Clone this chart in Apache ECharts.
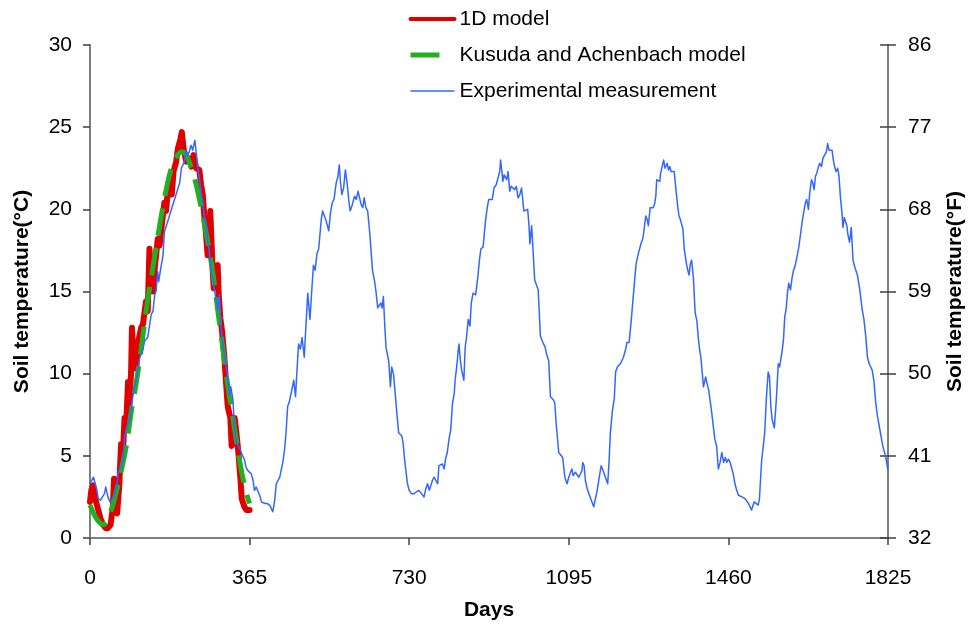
<!DOCTYPE html>
<html>
<head>
<meta charset="utf-8">
<script src="https://cdn.jsdelivr.net/npm/echarts@6/dist/echarts.min.js"></script>
<style>
  html, body { margin: 0; padding: 0; background: #ffffff; }
  #chart { width: 974px; height: 630px; }
</style>
</head>
<body>
<div id="chart"></div>
<script>
// Axis ticks
const dayTicks = [0, 365, 730, 1095, 1460, 1825];
const celsiusRange = [0, 30, 5];
const fahrenheitRange = [32, 86, 9];

// 1D model, first year: [day, °C]
const model1D = [
  [0,2.2],[3,2.9],[7,3.2],[12,2.4],[18,1.8],[24,1.2],[30,0.8],[36,0.6],[41,0.6],[47,0.8],
  [52,1.8],[55,3.6],[57,1.9],[62,1.5],[64,1.6],[67,3.2],[71,5.7],[75,5.0],[79,7.3],[83,7.0],
  [87,9.5],[90,8.0],[94,10.1],[96,12.8],[100,10.4],[106,10.3],[110,11.9],[117,12.8],[121,13.0],
  [128,14.4],[132,13.8],[136,17.6],[140,16.0],[144,15.0],[148,16.4],[155,18.2],[159,17.8],
  [167,19.7],[170,20.4],[174,19.9],[179,21.5],[184,22.1],[187,20.9],[191,22.3],[197,22.9],
  [201,23.7],[207,24.3],[210,24.7],[214,23.7],[220,22.9],[227,23.1],[232,22.6],[237,23.3],
  [243,22.5],[250,22.4],[254,21.5],[258,20.9],[261,19.7],[265,18.6],[269,17.2],[272,17.5],
  [275,19.9],[278,19.9],[281,16.0],[283,15.2],[288,16.4],[292,16.6],[294,15.0],[298,13.4],
  [302,12.6],[307,11.1],[311,9.5],[315,8.0],[321,7.3],[324,5.6],[327,5.9],[331,7.3],[334,6.6],
  [339,5.3],[344,3.6],[347,2.4],[353,1.9],[358,1.7],[365,1.7]
];

// Kusuda and Achenbach model, first year: [day, °C]
const kusuda = [
  [0,2.0],[10,1.4],[20,1.0],[30,0.8],[40,1.1],[52,2.0],[60,2.8],[70,3.9],[83,5.6],[95,7.8],
  [105,9.3],[117,11.5],[130,14.1],[140,15.8],[150,17.5],[163,19.6],[175,21.3],[185,22.4],
  [198,23.2],[210,23.5],[220,23.3],[228,22.8],[242,21.6],[258,19.6],[270,17.9],[280,16.3],
  [292,13.9],[307,10.9],[315,9.3],[324,7.8],[339,5.2],[350,3.6],[360,2.5],[365,2.1]
];

// Experimental measurement over five years: [day, °C]
const measured = [
  [0,3.3],[4,3.4],[8,3.7],[11,3.8],[15,3.0],[19,2.4],[24,2.3],[28,2.3],[33,2.7],[36,3.1],
  [41,2.5],[46,2.2],[49,2.2],[54,2.5],[58,2.9],[61,3.1],[64,3.9],[68,4.2],[72,4.4],[76,4.8],
  [79,6.1],[83,6.6],[87,6.9],[91,7.3],[94,7.9],[98,8.6],[102,9.2],[106,9.7],[109,10.3],[113,10.9],
  [117,11.2],[121,11.5],[125,12.0],[128,11.9],[132,12.2],[136,12.9],[140,13.6],[144,13.8],
  [148,14.8],[151,15.0],[155,16.2],[157,15.6],[159,15.5],[163,16.6],[167,17.2],[170,18.6],
  [172,18.7],[205,21.6],[209,22.5],[213,22.6],[216,22.9],[220,23.6],[224,23.3],[227,23.5],
  [231,23.9],[235,23.6],[238,24.0],[240,24.2],[243,23.4],[247,22.4],[250,21.9],[255,20.8],
  [258,20.5],[262,19.3],[265,19.1],[270,17.9],[273,17.4],[278,16.1],[281,15.8],[285,15.0],
  [288,14.6],[292,13.9],[296,14.8],[299,13.0],[303,12.0],[307,11.3],[311,10.5],[315,9.7],
  [319,8.7],[322,9.2],[324,9.3],[327,8.4],[330,6.9],[335,5.8],[338,5.9],[343,5.4],[349,5.0],
  [353,4.8],[357,4.3],[361,4.1],[365,4.2],[369,3.9],[373,3.5],[376,2.9],[380,3.1],[384,3.2],
  [388,2.6],[392,2.2],[396,2.1],[400,2.1],[405,2.1],[411,2.0],[415,1.9],[418,1.6],[422,2.2],
  [426,3.3],[430,3.4],[434,3.7],[437,4.1],[441,4.6],[445,5.4],[448,6.3],[452,8.0],[456,8.3],
  [460,8.2],[466,9.6],[470,8.6],[474,10.5],[477,11.8],[481,11.5],[485,12.2],[490,11.0],
  [494,13.0],[498,14.9],[503,13.3],[507,15.0],[511,16.6],[515,16.3],[519,17.3],[523,17.6],
  [526,18.5],[529,19.4],[532,19.9],[536,19.8],[540,19.3],[543,19.4],[546,18.7],[550,19.8],
  [554,20.4],[558,20.6],[563,21.6],[567,22.0],[570,22.7],[573,21.6],[576,20.9],[580,21.3],
  [584,22.4],[588,21.6],[592,20.5],[595,19.9],[600,20.3],[605,20.8],[609,20.6],[613,21.1],
  [616,21.2],[620,20.3],[624,20.1],[627,20.7],[631,20.1],[635,19.9],[640,18.5],[646,16.3],
  [651,15.6],[654,15.0],[658,14.0],[662,14.1],[665,14.3],[668,14.0],[671,14.7],[674,13.0],
  [677,11.6],[683,10.8],[687,9.2],[690,10.4],[694,10.0],[698,8.8],[702,7.5],[706,6.4],
  [710,6.3],[713,6.2],[716,5.8],[719,4.9],[722,4.2],[726,3.3],[730,2.9],[735,2.7],[741,2.7],
  [746,2.8],[752,2.9],[758,2.7],[764,2.5],[768,3.0],[772,3.3],[776,2.9],[779,2.9],[783,3.5],
  [787,3.7],[791,3.7],[795,3.3],[798,4.4],[802,4.5],[806,4.5],[810,4.2],[813,4.8],[817,5.2],
  [821,6.0],[825,6.6],[829,8.2],[833,8.8],[835,9.6],[839,10.5],[842,11.4],[844,11.8],
  [847,10.8],[850,10.2],[855,9.6],[858,11.6],[861,12.2],[865,13.3],[869,12.9],[872,14.3],
  [876,14.9],[879,14.9],[882,14.8],[887,15.9],[891,17.0],[894,17.6],[899,17.7],[902,18.6],
  [905,19.4],[909,20.2],[912,20.6],[916,20.5],[920,20.6],[924,21.3],[929,21.5],[934,22.0],
  [937,22.3],[939,23.0],[942,22.3],[944,21.7],[947,22.1],[950,22.2],[953,21.8],[956,22.3],
  [960,21.1],[963,21.4],[967,21.5],[971,21.2],[975,21.4],[979,20.7],[983,20.9],[987,21.3],
  [990,20.5],[992,19.9],[996,19.8],[1001,20.0],[1004,19.0],[1006,17.9],[1010,19.0],[1013,17.6],
  [1017,15.7],[1021,15.4],[1025,15.1],[1030,12.3],[1034,12.0],[1038,12.1],[1041,11.6],
  [1044,11.2],[1049,10.8],[1053,8.6],[1057,8.5],[1060,8.4],[1063,8.2],[1066,7.0],[1072,5.2],
  [1076,5.1],[1081,4.9],[1086,3.7],[1091,3.3],[1095,3.7],[1099,4.0],[1102,4.2],[1105,3.8],
  [1107,3.8],[1110,4.0],[1114,4.1],[1118,3.7],[1122,3.6],[1125,4.1],[1127,4.6],[1130,4.4],
  [1133,3.5],[1137,3.0],[1141,2.7],[1145,2.4],[1148,2.3],[1152,1.9],[1156,1.8],[1160,2.9],
  [1164,3.6],[1169,4.4],[1172,4.2],[1176,4.1],[1180,3.6],[1184,3.3],[1187,4.6],[1190,6.4],
  [1195,7.8],[1199,8.5],[1202,10.1],[1206,10.4],[1209,10.3],[1213,10.6],[1217,10.5],
  [1220,11.0],[1223,11.1],[1226,11.6],[1228,11.9],[1233,11.9],[1238,13.3],[1243,14.9],
  [1246,15.8],[1249,16.7],[1253,17.2],[1256,17.5],[1261,18.0],[1264,18.2],[1266,18.5],
  [1269,19.2],[1271,19.6],[1274,19.4],[1277,19.0],[1281,20.1],[1285,20.1],[1288,20.1],
  [1291,20.3],[1294,20.8],[1296,21.8],[1299,21.8],[1303,21.7],[1305,22.2],[1308,22.3],
  [1312,23.0],[1315,22.5],[1317,22.6],[1320,22.8],[1323,22.4],[1326,22.6],[1329,22.3],
  [1333,22.4],[1336,22.3],[1340,21.2],[1344,20.2],[1347,19.6],[1350,19.4],[1353,19.1],
  [1356,18.8],[1359,17.6],[1364,16.7],[1367,16.3],[1370,16.0],[1373,16.7],[1376,16.9],
  [1380,15.8],[1384,13.7],[1388,13.2],[1391,12.2],[1395,11.3],[1397,11.0],[1403,9.2],
  [1405,9.2],[1408,9.8],[1412,9.3],[1415,9.0],[1418,8.4],[1422,7.6],[1425,7.6],[1429,6.0],
  [1433,5.6],[1437,4.2],[1441,4.6],[1445,5.2],[1449,4.6],[1453,4.9],[1456,4.6],[1460,4.8],
  [1464,4.6],[1468,4.2],[1471,3.9],[1475,3.3],[1479,2.9],[1483,2.6],[1487,2.6],[1491,2.5],
  [1494,2.5],[1498,2.4],[1502,2.3],[1506,2.1],[1509,2.0],[1513,1.7],[1515,1.8],[1519,2.2],
  [1523,2.1],[1528,2.0],[1531,2.4],[1534,3.8],[1536,4.7],[1540,4.8],[1543,6.4],[1547,8.6],
  [1551,10.1],[1554,9.8],[1557,8.0],[1560,7.2],[1565,6.7],[1568,7.8],[1570,8.6],[1574,10.6],
  [1577,10.4],[1580,10.4],[1583,11.4],[1586,12.1],[1589,13.5],[1592,13.9],[1595,14.9],
  [1598,15.5],[1602,15.1],[1606,15.9],[1609,16.3],[1612,16.5],[1616,17.0],[1621,17.7],
  [1625,18.5],[1629,19.3],[1632,19.4],[1636,20.4],[1639,20.6],[1643,20.0],[1646,21.0],
  [1650,21.8],[1653,21.6],[1656,21.2],[1659,22.0],[1662,22.2],[1666,22.6],[1669,22.8],
  [1673,22.6],[1676,23.1],[1680,23.3],[1684,23.5],[1687,24.0],[1690,23.6],[1693,23.7],
  [1697,23.6],[1700,23.0],[1703,22.6],[1706,22.3],[1710,22.5],[1713,22.0],[1716,20.8],
  [1719,20.0],[1722,18.9],[1725,19.5],[1728,19.5],[1731,19.0],[1733,18.5],[1737,18.0],
  [1739,18.4],[1741,18.9],[1745,16.9],[1750,16.4],[1755,16.0],[1760,15.2],[1766,13.9],
  [1770,13.3],[1774,12.3],[1778,11.0],[1782,10.6],[1785,10.5],[1789,10.2],[1793,9.5],
  [1797,8.2],[1801,7.4],[1805,6.8],[1809,6.2],[1813,5.6],[1816,5.3],[1820,4.9],[1823,4.9],
  [1825,4.1]
];

const FONT = '"Liberation Sans", Arial, sans-serif';
const axisLineStyle = { color: '#7f7f7f', width: 2 };
const tickStyle = { color: '#404040', width: 1.5 };
const plainNumber = v => String(v);

const chart = echarts.init(document.getElementById('chart'), null, { renderer: 'canvas' });

chart.setOption({
  animation: false,
  backgroundColor: '#ffffff',
  textStyle: { fontFamily: FONT },
  grid: { left: 90, right: 84, top: 45, bottom: 92, containLabel: false },
  legend: {
    orient: 'vertical',
    left: 408,
    top: 7,
    padding: 0,
    itemWidth: 44,
    itemHeight: 14,
    itemGap: 12,
    selectedMode: false,
    // legend keys show only the line, no marker
    itemStyle: { opacity: 0, borderWidth: 0 },
    textStyle: { fontFamily: FONT, fontSize: 21, color: '#000', lineHeight: 24 },
    data: [
      { name: '1D model', lineStyle: { width: 4 } },
      { name: 'Kusuda and Achenbach model', lineStyle: { width: 5, type: [29, 30] } },
      { name: 'Experimental measurement', lineStyle: { width: 1.5 } }
    ]
  },
  xAxis: {
    type: 'value',
    min: dayTicks[0],
    max: dayTicks[dayTicks.length - 1],
    interval: dayTicks[1] - dayTicks[0],
    name: 'Days',
    nameLocation: 'middle',
    nameGap: 62,
    nameTextStyle: { fontFamily: FONT, fontSize: 21, fontWeight: 'bold', color: '#000' },
    axisLine: { show: true, lineStyle: axisLineStyle },
    axisTick: { show: true, inside: false, length: 7, lineStyle: tickStyle },
    axisLabel: { margin: 30, fontFamily: FONT, fontSize: 21, color: '#000', formatter: plainNumber },
    splitLine: { show: false }
  },
  yAxis: [
    {
      type: 'value',
      position: 'left',
      min: celsiusRange[0], max: celsiusRange[1], interval: celsiusRange[2],
      name: 'Soil temperature(°C)',
      nameLocation: 'middle',
      nameGap: 57,
      nameRotate: 90,
      nameTextStyle: { fontFamily: FONT, fontSize: 21, fontWeight: 'bold', color: '#000' },
      axisLine: { show: true, lineStyle: axisLineStyle },
      axisTick: { show: true, inside: false, length: 7, lineStyle: tickStyle },
      axisLabel: { margin: 18, fontFamily: FONT, fontSize: 21, color: '#000', formatter: plainNumber },
      splitLine: { show: false }
    },
    {
      type: 'value',
      position: 'right',
      min: fahrenheitRange[0], max: fahrenheitRange[1], interval: fahrenheitRange[2],
      name: 'Soil temperature(°F)',
      nameLocation: 'middle',
      nameGap: 57,
      nameRotate: 90,
      nameTextStyle: { fontFamily: FONT, fontSize: 21, fontWeight: 'bold', color: '#000' },
      axisLine: { show: true, onZero: false, lineStyle: axisLineStyle },
      axisTick: { show: true, inside: false, length: 8, lineStyle: tickStyle },
      axisLabel: { margin: 20, fontFamily: FONT, fontSize: 21, color: '#000', formatter: plainNumber },
      splitLine: { show: false }
    },
    {
      // inner half of the crossing ticks on the right-hand scale
      type: 'value',
      position: 'right',
      min: fahrenheitRange[0], max: fahrenheitRange[1], interval: fahrenheitRange[2],
      axisLine: { show: false },
      axisTick: { show: true, inside: true, length: 8, lineStyle: tickStyle },
      axisLabel: { show: false },
      splitLine: { show: false }
    }
  ],
  series: [
    {
      name: '1D model',
      type: 'line',
      yAxisIndex: 0,
      data: model1D,
      symbol: 'none',
      color: '#e00000',
      lineStyle: { color: '#e00000', width: 6, cap: 'round', join: 'round' },
      z: 2
    },
    {
      name: 'Kusuda and Achenbach model',
      type: 'line',
      yAxisIndex: 0,
      data: kusuda,
      symbol: 'none',
      smooth: 0.3,
      color: '#22b022',
      lineStyle: { color: '#22b022', width: 5, type: [28, 12], cap: 'butt' },
      z: 3
    },
    {
      name: 'Experimental measurement',
      type: 'line',
      yAxisIndex: 0,
      data: measured,
      symbol: 'none',
      color: '#3366ff',
      lineStyle: { color: '#3366ff', width: 1.5, join: 'round' },
      z: 4
    }
  ]
});
</script>
</body>
</html>
